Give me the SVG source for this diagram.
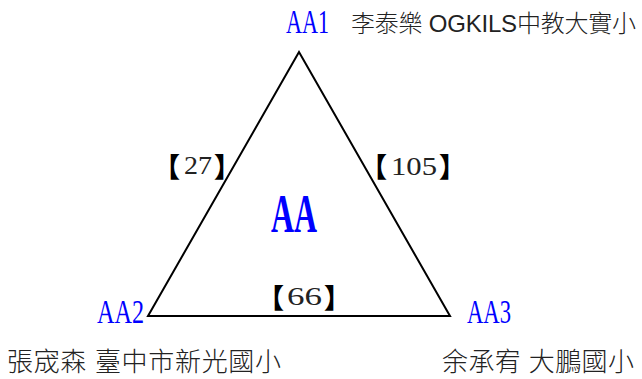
<svg xmlns="http://www.w3.org/2000/svg" width="642" height="379" viewBox="0 0 642 379">
<style>
.lbl{font-family:"Liberation Serif",serif;fill:#0000ff;}
.cjk{font-family:"Liberation Sans","Noto Sans CJK TC",sans-serif;fill:#222;font-weight:300;}
.br{font-family:"Noto Sans CJK TC",sans-serif;fill:#000;font-size:27px;font-weight:900;}
.num{font-family:"Liberation Serif",serif;fill:#222;}
</style>
<g id="connectors">
<polygon points="299,52 148,316 450,316" fill="none" stroke="#000" stroke-width="2" stroke-linejoin="miter"/>
</g>
<g id="AA">
<text class="lbl" x="271" y="232" font-size="54" font-weight="bold" textLength="46" lengthAdjust="spacingAndGlyphs">AA</text>
</g>
<g id="AA1">
<text class="lbl" x="286" y="33" font-size="33" textLength="43" lengthAdjust="spacingAndGlyphs">AA1</text>
<text class="cjk" x="351" y="32" font-size="24" textLength="285" lengthAdjust="spacing">李泰樂 OGKILS中教大實小</text>
</g>
<g id="AA2">
<text class="lbl" x="97" y="323" font-size="33" textLength="47" lengthAdjust="spacingAndGlyphs">AA2</text>
<text class="cjk" x="7" y="371" font-size="26" textLength="274" lengthAdjust="spacing">張宬森 臺中市新光國小</text>
</g>
<g id="AA3">
<text class="lbl" x="467" y="323" font-size="33" textLength="44" lengthAdjust="spacingAndGlyphs">AA3</text>
<text class="cjk" x="442" y="371" font-size="26" textLength="192" lengthAdjust="spacing">余承宥 大鵬國小</text>
</g>
<g id="edge-labels">
<text class="br" x="153" y="177">【</text>
<text class="num" x="184" y="174" font-size="26" textLength="28" lengthAdjust="spacingAndGlyphs">27</text>
<text class="br" x="214" y="177">】</text>
<text class="br" x="360" y="177">【</text>
<text class="num" x="391" y="175" font-size="26" textLength="46" lengthAdjust="spacingAndGlyphs">105</text>
<text class="br" x="439" y="177">】</text>
<text class="br" x="257" y="308">【</text>
<text class="num" x="287" y="305" font-size="26" textLength="35" lengthAdjust="spacingAndGlyphs">66</text>
<text class="br" x="324" y="308">】</text>
</g>
</svg>
